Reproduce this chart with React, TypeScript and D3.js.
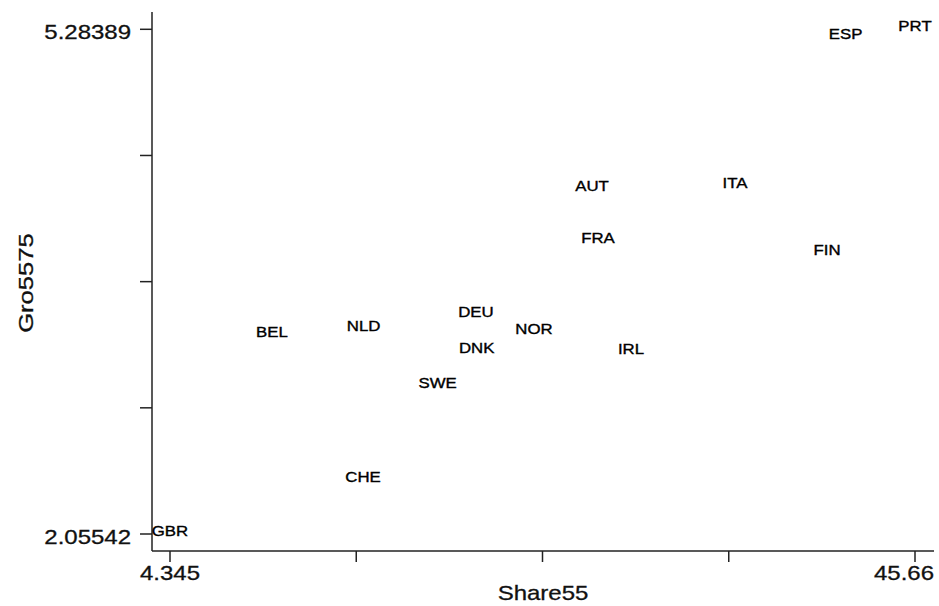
import React from "react";
import * as d3 from "d3";

const countries = ["GBR", "PRT", "ESP", "AUT", "ITA", "FRA", "FIN", "DEU", "NLD", "BEL", "NOR", "DNK", "IRL", "SWE", "CHE"];
const share55 = [4.345, 45.66, 41.81, 27.75, 35.68, 28.08, 40.78, 21.31, 15.08, 10.0, 24.53, 21.35, 29.91, 19.19, 15.05];
const gro5575 = [2.05542, 5.28389, 5.23, 4.259, 4.28, 3.925, 3.85, 3.451, 3.364, 3.327, 3.344, 3.221, 3.216, 2.997, 2.396];

const xTicks = [4.345, 14.67375, 25.0025, 35.33125, 45.66];
const xTickLabels = ["4.345", "", "", "", "45.66"];
const yTicks = [2.05542, 2.8625375, 3.669655, 4.4767725, 5.28389];
const yTickLabels = ["2.05542", "", "", "", "5.28389"];

const W = 939;
const H = 606;
const FONT = "'Liberation Sans', Arial, Helvetica, sans-serif";
const SX = 1.2;

export default function App() {
  const x = d3.scaleLinear().domain([4.345, 45.66]).range([170, 915]);
  const y = d3.scaleLinear().domain([2.05542, 5.28389]).range([534, 29.3]);
  const axisX = 152;
  const axisY = 551;
  const stroke = "#222";

  return (
    <svg
      width={W}
      height={H}
      style={{ position: "absolute", left: 0, top: 0, background: "#fff" }}
      fontFamily={FONT}
    >
      <rect x={0} y={0} width={W} height={H} fill="#fff" />
      {/* axes */}
      <line x1={axisX} y1={12} x2={axisX} y2={axisY} stroke={stroke} strokeWidth={1.5} />
      <line x1={axisX} y1={axisY} x2={934} y2={axisY} stroke={stroke} strokeWidth={1.5} />
      {/* y ticks */}
      {yTicks.map((t, i) => (
        <g key={"yt" + i}>
          <line x1={axisX - 12} x2={axisX} y1={y(t)} y2={y(t)} stroke={stroke} strokeWidth={1.5} />
          {yTickLabels[i] && (
            <text
              transform={`translate(131,${y(t) + 9.5}) scale(${SX},1)`}
              textAnchor="end"
              fontSize={20}
              fill="#111"
              stroke="#111"
              strokeWidth={0.3}
            >
              {yTickLabels[i]}
            </text>
          )}
        </g>
      ))}
      {/* x ticks */}
      {xTicks.map((t, i) => (
        <g key={"xt" + i}>
          <line x1={x(t)} x2={x(t)} y1={axisY} y2={axisY + 11} stroke={stroke} strokeWidth={1.5} />
          {xTickLabels[i] && (
            <text
              transform={
                i === xTicks.length - 1
                  ? `translate(934,580) scale(${SX},1)`
                  : `translate(${x(t)},580) scale(${SX},1)`
              }
              textAnchor={i === xTicks.length - 1 ? "end" : "middle"}
              fontSize={20}
              fill="#111"
              stroke="#111"
              strokeWidth={0.3}
            >
              {xTickLabels[i]}
            </text>
          )}
        </g>
      ))}
      {/* axis titles */}
      <text
        transform={`translate(543,600) scale(${SX},1)`}
        textAnchor="middle"
        fontSize={20}
        fill="#111"
        stroke="#111"
        strokeWidth={0.3}
      >
        Share55
      </text>
      <text
        transform={`translate(33,283) rotate(-90) scale(1.22,1)`}
        textAnchor="middle"
        fontSize={21}
        fill="#111"
        stroke="#111"
        strokeWidth={0.3}
      >
        Gro5575
      </text>
      {/* marker labels */}
      {countries.map((c, i) => (
        <text
          key={c}
          transform={`translate(${x(share55[i])},${y(gro5575[i]) + 1.5}) scale(${SX},1)`}
          textAnchor="middle"
          fontSize={14}
          fill="#000"
          stroke="#000"
          strokeWidth={0.35}
        >
          {c}
        </text>
      ))}
    </svg>
  );
}
